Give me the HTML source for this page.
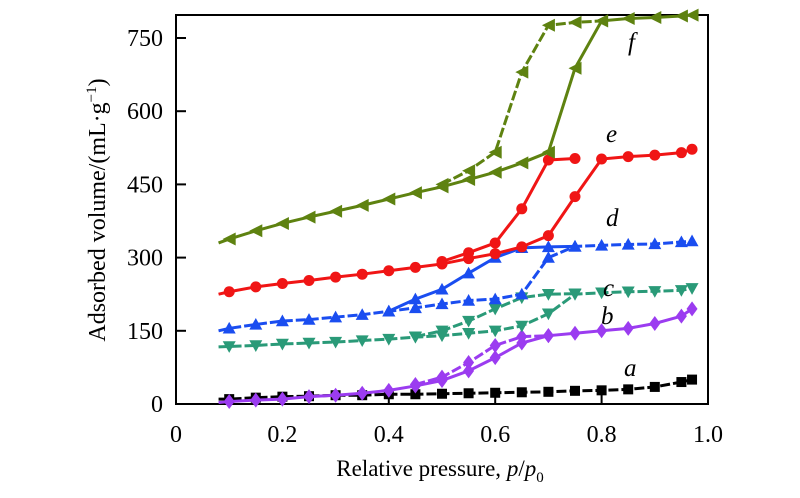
<!DOCTYPE html>
<html><head><meta charset="utf-8"><style>
body{margin:0;background:#fff}
text{font-family:"Liberation Serif",serif !important;fill:#000}
</style></head><body>
<svg id="chart" width="800" height="493" xmlns="http://www.w3.org/2000/svg"></svg>
<script>
const xs=[0.08,0.1,0.15,0.2,0.25,0.3,0.35,0.4,0.45,0.5,0.55,0.6,0.65,0.7,0.75,0.8,0.85,0.9,0.95,0.97];
const fAds=[330,338,355,370,383,395,407,420,433,445,460,475,494,516,688,785,790,792,795,797];
const fDesX=[0.5,0.55,0.6,0.65,0.7,0.75,0.8];
const fDes=[450,478,516,680,776,782,785];
const eAds=[225,230,240,247,253,260,266,273,280,287,298,308,322,345,425,502,507,510,515,522];
const eDesX=[0.5,0.55,0.6,0.65,0.7,0.75];
const eDes=[292,310,330,400,500,503];
const dAds=[150,155,163,170,173,178,183,190,197,205,212,215,225,300,323,325,327,328,332,334];
const dDesX=[0.4,0.45,0.5,0.55,0.6,0.65,0.7,0.75];
const dDes=[190,215,235,268,300,320,322,323];
const cAds=[117,118,120,123,125,127,130,133,137,140,145,150,160,185,225,228,230,231,233,237];
const cDesX=[0.45,0.5,0.55,0.6,0.65,0.7,0.75];
const cDes=[138,150,170,195,218,225,226];
const bAds=[3,5,8,10,15,18,22,28,37,48,68,95,125,140,145,150,155,165,180,195];
const bDesX=[0.45,0.5,0.55,0.6,0.65,0.7];
const bDes=[40,55,85,120,138,140];
const aAds=[10,10,13,15,16,18,18,20,20,21,22,23,24,25,27,28,30,35,45,50];
const xTicks=[0,0.2,0.4,0.6,0.8,1.0];
const xTickLabels=["0","0.2","0.4","0.6","0.8","1.0"];
const yTicks=[0,150,300,450,600,750];

const svg=document.getElementById('chart');
const NS='http://www.w3.org/2000/svg';
const FF='Liberation Serif, serif';
const L=176,R=708,T=15,B=404;
const X=v=>L+v*(R-L);
const Y=v=>B-v*(B-38)/750;
function mk(tag,attrs,parent){const e=document.createElementNS(NS,tag);for(const k in attrs)e.setAttribute(k,attrs[k]);(parent||svg).appendChild(e);return e;}

const frame=mk('rect',{x:L,y:T,width:R-L,height:B-T,fill:'none',stroke:'#000','stroke-width':2});



xTicks.forEach((t,i)=>{
  const tk=mk('line',{x1:X(t),x2:X(t),y1:B,y2:B-10,stroke:'#000','stroke-width':2});
  
  
  const tx=mk('text',{x:X(t),y:B+38,'text-anchor':'middle','font-size':24,'font-family':FF});
  tx.textContent=xTickLabels[i];
  
  
});
yTicks.forEach(t=>{
  const tk=mk('line',{x1:L,x2:L+10,y1:Y(t),y2:Y(t),stroke:'#000','stroke-width':2});
  
  
  const tx=mk('text',{x:L-13,y:Y(t)+8,'text-anchor':'end','font-size':24,'font-family':FF});
  tx.textContent=t;
  
  
});

function marker(shape,x,y,c,g){
  const s=6.5;let e;
  if(shape==='circle')e=mk('circle',{cx:x,cy:y,r:5.5,fill:c},g);
  else if(shape==='square')e=mk('rect',{x:x-5,y:y-5,width:10,height:10,fill:c},g);
  else{let p;
    if(shape==='left')p=[[x-s,y],[x+s,y-s],[x+s,y+s]];
    else if(shape==='up')p=[[x,y-s],[x-s,y+s*0.8],[x+s,y+s*0.8]];
    else if(shape==='down')p=[[x,y+s],[x-s,y-s*0.8],[x+s,y-s*0.8]];
    else p=[[x,y-s-1],[x+s-1,y],[x,y+s+1],[x-s+1,y]];
    e=mk('polygon',{points:p.map(q=>q.join(',')).join(' '),fill:c},g);}
  
  
}
function series(name,xv,yv,c,shape,dash){
  const g=mk('g',{});
  
  
  const pts=xv.map((x,i)=>X(x)+','+Y(yv[i])).join(' ');
  mk('polyline',{points:pts,fill:'none',stroke:c,'stroke-width':3,'stroke-dasharray':dash?'10,3':'none'},g);
  xv.forEach((x,i)=>{if(x>=0.1)marker(shape,X(x),Y(yv[i]),c,g);});
}
series('series-a-adsorption',xs,aAds,'#000','square',true);
series('series-b-adsorption',xs,bAds,'#9b3cf0','diamond',false);
series('series-b-desorption',bDesX,bDes,'#9b3cf0','diamond',true);
series('series-c-adsorption',xs,cAds,'#2a9a78','down',true);
series('series-c-desorption',cDesX,cDes,'#2a9a78','down',true);
series('series-d-adsorption',xs,dAds,'#1a4df0','up',true);
series('series-d-desorption',dDesX,dDes,'#1a4df0','up',false);
series('series-e-adsorption',xs,eAds,'#f01515','circle',false);
series('series-e-desorption',eDesX,eDes,'#f01515','circle',false);
series('series-f-adsorption',xs,fAds,'#5e8210','left',false);
series('series-f-desorption',fDesX,fDes,'#5e8210','left',true);

[['f',628,50],['e',606,142],['d',606,226],['c',603,296],['b',601,324],['a',624,376]].forEach(l=>{
  const t=mk('text',{x:l[1],y:l[2],'font-size':25,'font-style':'italic','font-family':FF});
  t.textContent=l[0];
  
  
});
</script>
<svg style="position:absolute;left:0;top:0" width="800" height="493" xmlns="http://www.w3.org/2000/svg">
<text transform="translate(105,210) rotate(-90)" text-anchor="middle" font-size="24" font-family="Liberation Serif, serif">Adsorbed volume/(mL·g<tspan font-size="15" dy="-9">−1</tspan><tspan dy="9">)</tspan></text>
<text x="440" y="476" text-anchor="middle" font-size="23" font-family="Liberation Serif, serif">Relative pressure, <tspan font-style="italic">p</tspan>/<tspan font-style="italic">p</tspan><tspan font-size="15" dy="6">0</tspan></text>
</svg>
</body></html>
